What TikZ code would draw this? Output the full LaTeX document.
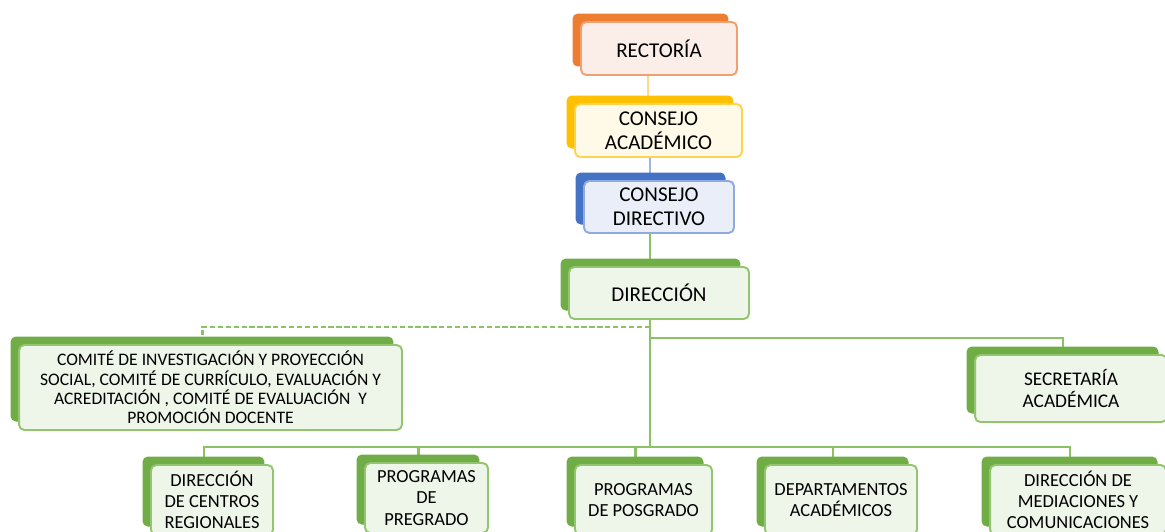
\documentclass[tikz,border=0pt]{standalone}
\usepackage{fontspec}
\setmainfont{Carlito}
\usepackage{tikz}
\usetikzlibrary{shadows, backgrounds, calc}
\definecolor{orgOrange}{HTML}{ED7D31}
\definecolor{orgOrangeLine}{HTML}{F0A070}
\definecolor{orgOrangeFill}{HTML}{FBEEE8}
\definecolor{orgYellow}{HTML}{FFC000}
\definecolor{orgYellowLine}{HTML}{FFD34D}
\definecolor{orgYellowFill}{HTML}{FFF9E8}
\definecolor{orgBlue}{HTML}{4472C4}
\definecolor{orgBlueLine}{HTML}{8FAADC}
\definecolor{orgBlueFill}{HTML}{E9EEF8}
\definecolor{orgGreen}{HTML}{70AD47}
\definecolor{orgGreenLine}{HTML}{92C56E}
\definecolor{orgGreenFill}{HTML}{EEF5E9}
\definecolor{lnkGreen}{HTML}{8CC168}
\definecolor{lnkOrange}{HTML}{FFD68A}
\definecolor{lnkBlue}{HTML}{9DB6E0}
\tikzset{
  orgbox/.style={rounded corners=3pt, line width=1.1pt, align=center, inner sep=1pt, text=black},
  boxorange/.style={orgbox, draw=orgOrangeLine, fill=orgOrangeFill,
    general shadow={fill=orgOrange, shadow xshift=-0.17cm, shadow yshift=0.17cm}},
  boxyellow/.style={orgbox, draw=orgYellowLine, fill=orgYellowFill,
    general shadow={fill=orgYellow, shadow xshift=-0.17cm, shadow yshift=0.17cm}},
  boxblue/.style={orgbox, draw=orgBlueLine, fill=orgBlueFill,
    general shadow={fill=orgBlue, shadow xshift=-0.17cm, shadow yshift=0.17cm}},
  boxgreen/.style={orgbox, draw=orgGreenLine, fill=orgGreenFill,
    general shadow={fill=orgGreen, shadow xshift=-0.17cm, shadow yshift=0.17cm}},
  topfont/.style={font=\fontsize{12}{13.6}\selectfont},
  lowfont/.style={font=\fontsize{10.5}{12}\selectfont},
  link/.style={draw=lnkGreen, line width=1.4pt},
  dashlink/.style={link, dash pattern=on 3pt off 1.5pt}
}

\begin{document}
\begin{tikzpicture}[x=0.02cm, y=-0.02cm]
  \path[use as bounding box, clip] (0,0) rectangle (1165,531);

  % upper chain
  \node[boxorange, topfont, minimum width=3.12cm, minimum height=1.06cm] (rect) at (659,48.5) {RECTORÍA};
  \node[boxyellow, topfont, minimum width=3.34cm, minimum height=1.06cm] (acad) at (658.5,130.5) {CONSEJO\\ACADÉMICO};
  \node[boxblue, topfont, minimum width=3.0cm, minimum height=1.04cm] (cdir) at (659,207) {CONSEJO\\DIRECTIVO};
  \node[boxgreen, topfont, minimum width=3.6cm, minimum height=1.04cm] (dir) at (659,293) {DIRECCIÓN};

  % staff boxes
  \node[boxgreen, font=\fontsize{10}{11}\selectfont, minimum width=7.66cm, minimum height=1.7cm] (com) at (210.5,387.5)
    {COMITÉ DE INVESTIGACIÓN Y PROYECCIÓN\\SOCIAL, COMITÉ DE CURRÍCULO, EVALUACIÓN Y\\ACREDITACIÓN , COMITÉ DE EVALUACIÓN \ Y\\PROMOCIÓN DOCENTE};
  \node[boxgreen, font=\fontsize{11}{12}\selectfont, minimum width=3.84cm, minimum height=1.34cm] (sec) at (1071,388.5) {SECRETARÍA\\ACADÉMICA};

  % lower row
  \node[boxgreen, lowfont, minimum width=2.44cm, minimum height=1.4cm] (reg) at (212,500) {DIRECCIÓN\\DE CENTROS\\REGIONALES};
  \node[boxgreen, lowfont, minimum width=2.46cm, minimum height=1.4cm] (pre) at (426.5,498) {PROGRAMAS\\DE\\PREGRADO};
  \node[boxgreen, lowfont, minimum width=2.74cm, minimum height=1.4cm] (pos) at (643.5,500) {PROGRAMAS\\DE POSGRADO};
  \node[boxgreen, lowfont, minimum width=3.04cm, minimum height=1.4cm] (dep) at (841,500) {DEPARTAMENTOS\\ACADÉMICOS};
  \node[boxgreen, lowfont, minimum width=3.52cm, minimum height=1.4cm] (med) at (1078,500) {DIRECCIÓN DE\\MEDIACIONES Y\\COMUNICACIONES};

  \begin{scope}[on background layer]
    \coordinate (split) at (650,447);
    \coordinate (dsh) at (650,327);
    \coordinate (sol) at (650,338);
    \draw[draw=lnkOrange, line width=1.4pt] (rect.south -| 648,0) -- (acad.north -| 648,0);
    \draw[draw=lnkBlue, line width=1.4pt] (acad.south -| split) -- (cdir.north -| split);
    \draw[link] (cdir.south -| split) -- (dir.north -| split);
    \draw[link] (dir.south -| split) -- (split);
    \draw[dashlink] (dsh) -| ($(com.north)+(-8,0)$);
    \draw[link] (sol) -| ($(sec.north)+(-8,0)$);
    \foreach \b in {reg,pre,pos,dep,med}
      \draw[link] ($(\b.north)+(-8,0)$) |- (split);
  \end{scope}
\end{tikzpicture}
\end{document}
